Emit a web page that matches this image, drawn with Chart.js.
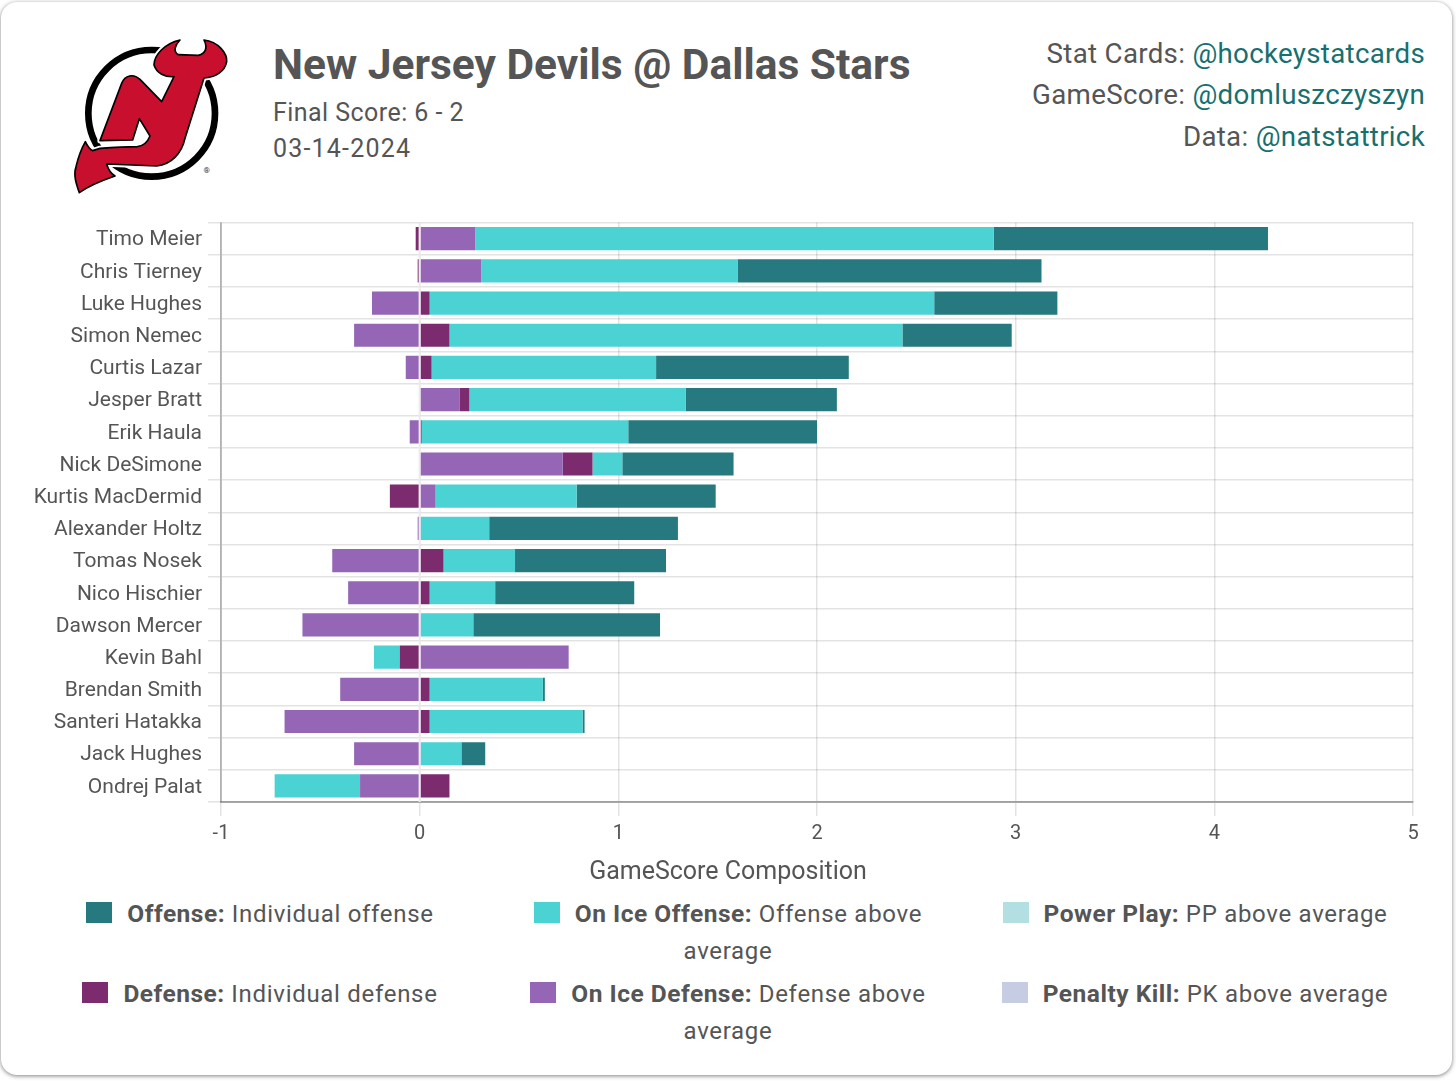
<!DOCTYPE html>
<html>
<head>
<meta charset="utf-8">
<title>New Jersey Devils @ Dallas Stars</title>
<script src="https://cdn.jsdelivr.net/npm/chart.js@4"></script>
<style>
  html, body { margin: 0; padding: 0; background: #fff; }
  body { width: 1456px; height: 1081px; position: relative; overflow: hidden; font-family: Roboto, sans-serif; color: #555; }
  #card { position: absolute; left: 1px; top: 2px; width: 1451px; height: 1073px; border-radius: 16px; background: #fff; box-shadow: 0 1px 4px rgba(0,0,0,.5); }
  #logo { position: absolute; left: 50px; top: 20px; width: 200px; height: 190px; }
  h1 { position: absolute; left: 273px; top: 41px; margin: 0; font-size: 42.5px; line-height: 48px; font-weight: 700; white-space: nowrap; }
  .sub { position: absolute; left: 273px; font-size: 25px; line-height: 30px; letter-spacing: .45px; white-space: nowrap; }
  .credit { position: absolute; right: 31px; font-size: 27.7px; line-height: 34px; letter-spacing: .3px; white-space: nowrap; }
  .credit span { color: #17706f; }
  canvas { position: absolute; left: 0; top: 204px; }
  .leg { position: absolute; width: 420px; text-align: center; font-size: 24px; line-height: 37px; letter-spacing: .7px; }
  .leg b { font-size: 24.5px; letter-spacing: .5px; }
  .leg i { display: inline-block; width: 26px; height: 21px; margin-right: 15px; vertical-align: -1px; box-sizing: border-box; border-top: 1px solid; border-bottom: 1px solid; }
</style>
</head>
<body>
<div id="card"></div>
<svg id="logo" viewBox="0 0 600 570">
  <circle cx="305" cy="280" r="190" fill="#fff" stroke="#000" stroke-width="20"/>
  <path d="M88 518 C78 490 70 465 78 440 C84 415 95 385 106 365 C112 378 118 388 128 392 L150 385 C190 382 230 380 262 380 C280 378 292 368 300 348 L268 296 L248 360 L150 362 L215 190 C225 165 250 160 270 178 L335 245 L372 170 C345 172 320 160 312 135 C312 105 345 70 390 60 C375 75 368 95 385 104 L445 106 C470 100 472 80 462 60 C505 65 532 100 530 125 C525 155 495 172 462 174 L405 355 C395 400 365 432 320 438 L170 432 C175 450 185 462 195 468 C160 480 120 495 88 518 Z"
    fill="#fff" stroke="#fff" stroke-width="16" stroke-linejoin="round"/>
  <path d="M88 518 C78 490 70 465 78 440 C84 415 95 385 106 365 C112 378 118 388 128 392 L150 385 C190 382 230 380 262 380 C280 378 292 368 300 348 L268 296 L248 360 L150 362 L215 190 C225 165 250 160 270 178 L335 245 L372 170 C345 172 320 160 312 135 C312 105 345 70 390 60 C375 75 368 95 385 104 L445 106 C470 100 472 80 462 60 C505 65 532 100 530 125 C525 155 495 172 462 174 L405 355 C395 400 365 432 320 438 L170 432 C175 450 185 462 195 468 C160 480 120 495 88 518 Z"
    fill="#c8102e" stroke="#000" stroke-width="5" stroke-linejoin="round"/>
  <text x="470" y="458" font-size="24" text-anchor="middle" fill="#333" font-family="Roboto">®</text>
</svg>
<h1>New Jersey Devils @ Dallas Stars</h1>
<div class="sub" style="top:98px">Final Score: 6 - 2</div>
<div class="sub" style="top:134px;letter-spacing:1.2px">03-14-2024</div>
<div class="credit" style="top:37px">Stat Cards: <span>@hockeystatcards</span></div>
<div class="credit" style="top:78px">GameScore: <span>@domluszczyszyn</span></div>
<div class="credit" style="top:120px">Data: <span>@natstattrick</span></div>
<canvas id="chart" width="1456" height="686"></canvas>
<div id="legend"></div>
<script>
// プレイヤー(上から順)
const players = ['Timo Meier','Chris Tierney','Luke Hughes','Simon Nemec','Curtis Lazar','Jesper Bratt','Erik Haula','Nick DeSimone','Kurtis MacDermid','Alexander Holtz','Tomas Nosek','Nico Hischier','Dawson Mercer','Kevin Bahl','Brendan Smith','Santeri Hatakka','Jack Hughes','Ondrej Palat'];

// 各項目の値
const onIceDefense = [0.28,0.31,-0.24,-0.33,-0.07,0.20,-0.05,0.72,0.08,-0.01,-0.44,-0.36,-0.59,0.75,-0.40,-0.68,-0.33,-0.30];
const defense      = [-0.02,-0.01,0.05,0.15,0.06,0.05,0.01,0.15,-0.15,0,0.12,0.05,0,-0.10,0.05,0.05,0,0.15];
const onIceOffense = [2.61,1.29,2.54,2.28,1.13,1.09,1.04,0.15,0.71,0.35,0.36,0.33,0.27,-0.13,0.57,0.77,0.21,-0.43];
const offense      = [1.38,1.53,0.62,0.55,0.97,0.76,0.95,0.56,0.70,0.95,0.76,0.70,0.94,0,0.01,0.01,0.12,0];
const powerPlay    = [0,0,0,0,0,0,0,0,0,0,0,0,0,0,0,0,0,0];
const penaltyKill  = [0,0,0,0,0,0,0,0,0,0,0,0,0,0,0,0,0,0];

const colors = { offense: '#26797e', onIceOffense: '#4bd2d3', powerPlay: '#b3dfe3', defense: '#7c2b6e', onIceDefense: '#9466b5', penaltyKill: '#c6cce2' };

// 凡例
const legendKeys  = ['offense','onIceOffense','powerPlay','defense','onIceDefense','penaltyKill'];
const legendNames = ['Offense:','On Ice Offense:','Power Play:','Defense:','On Ice Defense:','Penalty Kill:'];
const legendTexts = ['Individual offense','Offense above average','PP above average','Individual defense','Defense above average','PK above average'];
const legendLeft = [50, 518, 985];
const legendTop = [895, 975];

const legendBox = document.getElementById('legend');
legendKeys.forEach(function (key, i) {
  const item = document.createElement('div');
  item.className = 'leg';
  item.style.left = legendLeft[i % 3] + 'px';
  item.style.top = legendTop[Math.floor(i / 3)] + 'px';
  const swatch = document.createElement('i');
  swatch.style.background = colors[key];
  swatch.style.borderColor = colors[key];
  const name = document.createElement('b');
  name.textContent = legendNames[i];
  item.appendChild(swatch);
  item.appendChild(name);
  item.appendChild(document.createTextNode(' ' + legendTexts[i]));
  legendBox.appendChild(item);
});

// 0の線(バーの上に白っぽく引く)
const zeroLine = {
  id: 'zeroLine',
  afterDatasetsDraw(chart) {
    const x = chart.scales.x.getPixelForValue(0);
    const ctx = chart.ctx;
    ctx.save();
    ctx.strokeStyle = '#eee9ee';
    ctx.lineWidth = 2;
    ctx.beginPath();
    ctx.moveTo(x, chart.chartArea.top);
    ctx.lineTo(x, chart.chartArea.bottom);
    ctx.stroke();
    ctx.restore();
  }
};

// 軸タイトルはキャンバス全体の中央に置く
const axisTitle = {
  id: 'axisTitle',
  afterDraw(chart) {
    const ctx = chart.ctx;
    ctx.save();
    ctx.fillStyle = '#555';
    ctx.font = '25px Roboto';
    ctx.textAlign = 'center';
    ctx.textBaseline = 'middle';
    ctx.fillText('GameScore Composition', chart.width / 2, 669);
    ctx.restore();
  }
};

function bar(label, data, color) {
  return { label: label, data: data, backgroundColor: color, borderWidth: 0 };
}

new Chart(document.getElementById('chart'), {
  type: 'bar',
  plugins: [zeroLine, axisTitle],
  data: {
    labels: players,
    datasets: [
      bar('On Ice Defense', onIceDefense, colors.onIceDefense),
      bar('Defense', defense, colors.defense),
      bar('On Ice Offense', onIceOffense, colors.onIceOffense),
      bar('Offense', offense, colors.offense),
      bar('Power Play', powerPlay, colors.powerPlay),
      bar('Penalty Kill', penaltyKill, colors.penaltyKill)
    ]
  },
  options: {
    indexAxis: 'y',
    responsive: false,
    animation: false,
    layout: { padding: { top: 10, right: 43, left: 0, bottom: 0 } },
    plugins: {
      legend: { display: false },
      tooltip: { enabled: false }
    },
    scales: {
      x: {
        stacked: true,
        min: -1,
        max: 5,
        afterFit(scale) { scale.height = 88; },
        ticks: { stepSize: 1, color: '#555', padding: 6, font: { family: 'Roboto', size: 20 } },
        grid: { color: 'rgba(0,0,0,0.11)', lineWidth: 1.5, tickLength: 14 },
        border: { color: 'rgba(0,0,0,0.3)', width: 2 }
      },
      y: {
        stacked: true,
        afterFit(scale) { scale.width = 221; },
        ticks: { color: '#555', padding: 6, labelOffset: 1.5, font: { family: 'Roboto', size: 21 } },
        grid: { color: 'rgba(0,0,0,0.11)', lineWidth: 1.5, tickLength: 13 },
        border: { color: 'rgba(0,0,0,0.22)', width: 2 }
      }
    }
  }
});
</script>
</body>
</html>
